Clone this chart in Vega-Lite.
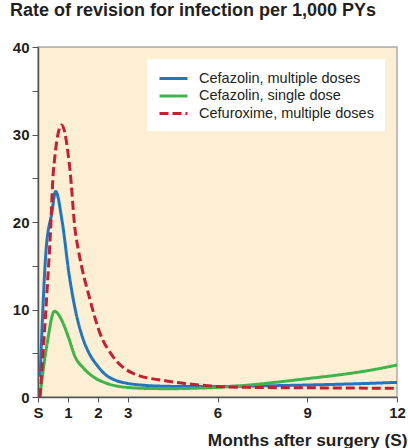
{
  "$schema": "https://vega.github.io/schema/vega-lite/v6.json",
  "width": 359,
  "height": 350,
  "autosize": {"type": "none"},
  "padding": {"left": 38, "top": 47, "right": 11, "bottom": 51},
  "background": "white",
  "title": {
    "text": "Rate of revision for infection per 1,000 PYs",
    "anchor": "start",
    "frame": "group",
    "dx": -28,
    "offset": 20,
    "font": "Liberation Sans",
    "fontSize": 18,
    "fontWeight": "bold",
    "color": "#231f20"
  },
  "config": {
    "view": {"fill": "#fdefd3", "stroke": "#aaaaaa", "strokeWidth": 1.5},
    "font": "Liberation Sans"
  },
  "data": {
    "values": [
      {"series": "Cefazolin, multiple doses", "month": 0.07, "rate": 2.3},
      {"series": "Cefazolin, multiple doses", "month": 0.27, "rate": 16.8},
      {"series": "Cefazolin, multiple doses", "month": 0.46, "rate": 21},
      {"series": "Cefazolin, multiple doses", "month": 0.59, "rate": 23.5},
      {"series": "Cefazolin, multiple doses", "month": 0.81, "rate": 20},
      {"series": "Cefazolin, multiple doses", "month": 1.04, "rate": 14},
      {"series": "Cefazolin, multiple doses", "month": 1.27, "rate": 9.6},
      {"series": "Cefazolin, multiple doses", "month": 1.5, "rate": 6.7},
      {"series": "Cefazolin, multiple doses", "month": 1.74, "rate": 4.8},
      {"series": "Cefazolin, multiple doses", "month": 1.98, "rate": 3.6},
      {"series": "Cefazolin, multiple doses", "month": 2.24, "rate": 2.6},
      {"series": "Cefazolin, multiple doses", "month": 2.6, "rate": 1.9},
      {"series": "Cefazolin, multiple doses", "month": 3.0, "rate": 1.55},
      {"series": "Cefazolin, multiple doses", "month": 3.5, "rate": 1.35},
      {"series": "Cefazolin, multiple doses", "month": 4, "rate": 1.25},
      {"series": "Cefazolin, multiple doses", "month": 5, "rate": 1.2},
      {"series": "Cefazolin, multiple doses", "month": 6, "rate": 1.2},
      {"series": "Cefazolin, multiple doses", "month": 7, "rate": 1.25},
      {"series": "Cefazolin, multiple doses", "month": 8, "rate": 1.3},
      {"series": "Cefazolin, multiple doses", "month": 9, "rate": 1.37},
      {"series": "Cefazolin, multiple doses", "month": 10, "rate": 1.45},
      {"series": "Cefazolin, multiple doses", "month": 11, "rate": 1.55},
      {"series": "Cefazolin, multiple doses", "month": 12, "rate": 1.67},
      {"series": "Cefazolin, single dose", "month": 0.07, "rate": 0.3},
      {"series": "Cefazolin, single dose", "month": 0.3, "rate": 6},
      {"series": "Cefazolin, single dose", "month": 0.55, "rate": 9.8},
      {"series": "Cefazolin, single dose", "month": 0.79, "rate": 8.8},
      {"series": "Cefazolin, single dose", "month": 1.01, "rate": 6.9},
      {"series": "Cefazolin, single dose", "month": 1.24, "rate": 4.6},
      {"series": "Cefazolin, single dose", "month": 1.52, "rate": 3.3},
      {"series": "Cefazolin, single dose", "month": 1.85, "rate": 2.3},
      {"series": "Cefazolin, single dose", "month": 2.3, "rate": 1.56},
      {"series": "Cefazolin, single dose", "month": 2.97, "rate": 1.1},
      {"series": "Cefazolin, single dose", "month": 3.75, "rate": 0.97},
      {"series": "Cefazolin, single dose", "month": 4.5, "rate": 0.95},
      {"series": "Cefazolin, single dose", "month": 5, "rate": 0.98},
      {"series": "Cefazolin, single dose", "month": 6, "rate": 1.1},
      {"series": "Cefazolin, single dose", "month": 7, "rate": 1.35},
      {"series": "Cefazolin, single dose", "month": 8, "rate": 1.7},
      {"series": "Cefazolin, single dose", "month": 9, "rate": 2.1},
      {"series": "Cefazolin, single dose", "month": 10, "rate": 2.5},
      {"series": "Cefazolin, single dose", "month": 11, "rate": 3.0},
      {"series": "Cefazolin, single dose", "month": 12, "rate": 3.65},
      {"series": "Cefuroxime, multiple doses", "month": 0.07, "rate": 0},
      {"series": "Cefuroxime, multiple doses", "month": 0.3, "rate": 12},
      {"series": "Cefuroxime, multiple doses", "month": 0.42, "rate": 19},
      {"series": "Cefuroxime, multiple doses", "month": 0.51, "rate": 25.6},
      {"series": "Cefuroxime, multiple doses", "month": 0.79, "rate": 31.1},
      {"series": "Cefuroxime, multiple doses", "month": 1.07, "rate": 25.9},
      {"series": "Cefuroxime, multiple doses", "month": 1.24, "rate": 19.1},
      {"series": "Cefuroxime, multiple doses", "month": 1.35, "rate": 16.8},
      {"series": "Cefuroxime, multiple doses", "month": 1.74, "rate": 11.1},
      {"series": "Cefuroxime, multiple doses", "month": 2.07, "rate": 7.3},
      {"series": "Cefuroxime, multiple doses", "month": 2.51, "rate": 4.6},
      {"series": "Cefuroxime, multiple doses", "month": 3.18, "rate": 2.7},
      {"series": "Cefuroxime, multiple doses", "month": 4.3, "rate": 1.83},
      {"series": "Cefuroxime, multiple doses", "month": 5.4, "rate": 1.37},
      {"series": "Cefuroxime, multiple doses", "month": 6, "rate": 1.2},
      {"series": "Cefuroxime, multiple doses", "month": 7, "rate": 1.1},
      {"series": "Cefuroxime, multiple doses", "month": 9, "rate": 1.05},
      {"series": "Cefuroxime, multiple doses", "month": 12, "rate": 1.0}
    ]
  },
  "mark": {"type": "line", "strokeWidth": 3, "interpolate": "monotone", "clip": true},
  "encoding": {
    "x": {
      "field": "month",
      "type": "quantitative",
      "scale": {"domain": [0, 12], "nice": false},
      "axis": {
        "values": [0, 1, 2, 3, 6, 9, 12],
        "labelExpr": "datum.value == 0 ? 'S' : datum.label",
        "labelFlush": false,
        "title": "Months after surgery (S)",
        "titleAnchor": "end",
        "titleAlign": "right",
        "titleX": 369,
        "titleFontSize": 17.3,
        "titleFontWeight": "bold",
        "titleColor": "#231f20",
        "titlePadding": 11,
        "labelFontSize": 15,
        "labelFontWeight": "bold",
        "labelColor": "#231f20",
        "labelPadding": 3,
        "domainColor": "#555555",
        "domainWidth": 1.5,
        "tickColor": "#555555",
        "tickSize": 5,
        "grid": false
      }
    },
    "y": {
      "field": "rate",
      "type": "quantitative",
      "scale": {"domain": [0, 40], "nice": false},
      "axis": {
        "values": [0, 5, 10, 15, 20, 25, 30, 35, 40],
        "labelExpr": "datum.value % 10 == 0 ? datum.label : ''",
        "labelFlush": false,
        "title": null,
        "labelFontSize": 15,
        "labelFontWeight": "bold",
        "labelColor": "#231f20",
        "labelPadding": 3,
        "domainColor": "#555555",
        "domainWidth": 1.5,
        "tickColor": "#555555",
        "tickSize": 6,
        "grid": false
      }
    },
    "color": {
      "field": "series",
      "type": "nominal",
      "scale": {
        "domain": ["Cefazolin, multiple doses", "Cefazolin, single dose", "Cefuroxime, multiple doses"],
        "range": ["#1f77c4", "#3db54a", "#c41f33"]
      },
      "legend": {
        "title": null,
        "orient": "top-right",
        "offset": 12,
        "fillColor": "white",
        "padding": 11,
        "labelFontSize": 14.5,
        "labelLimit": 400,
        "labelColor": "#231f20",
        "labelOffset": 24,
        "symbolType": "M-1,0H3",
        "symbolSize": 196,
        "symbolStrokeWidth": 3,
        "rowPadding": 2.5
      }
    },
    "strokeDash": {
      "field": "series",
      "type": "nominal",
      "scale": {
        "domain": ["Cefazolin, multiple doses", "Cefazolin, single dose", "Cefuroxime, multiple doses"],
        "range": [[1, 0], [1, 0], [9, 4]]
      },
      "legend": null
    }
  }
}
